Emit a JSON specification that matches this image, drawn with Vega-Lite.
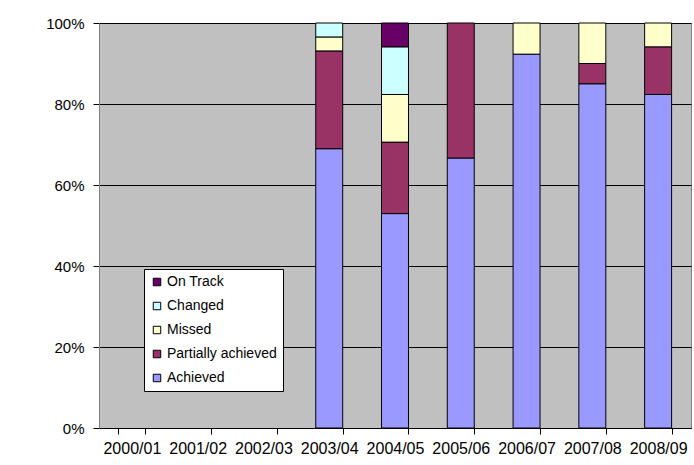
{
  "$schema": "https://vega.github.io/schema/vega-lite/v6.json",
  "width": 592,
  "height": 405,
  "autosize": {"type": "none"},
  "padding": {"left": 99, "top": 23, "right": 3, "bottom": 37},
  "background": "white",
  "config": {
    "view": {"fill": "#C0C0C0", "stroke": "#808080", "strokeWidth": 1},
    "font": "Liberation Sans",
    "axis": {"labelFont": "Liberation Sans", "labelColor": "black", "domainColor": "black", "tickColor": "black", "titleColor": "black"}
  },
  "data": {
    "values": [
      {"year": "2003/04", "status": "Achieved", "rank": 1, "count": 20},
      {"year": "2003/04", "status": "Partially achieved", "rank": 2, "count": 7},
      {"year": "2003/04", "status": "Missed", "rank": 3, "count": 1},
      {"year": "2003/04", "status": "Changed", "rank": 4, "count": 1},
      {"year": "2004/05", "status": "Achieved", "rank": 1, "count": 9},
      {"year": "2004/05", "status": "Partially achieved", "rank": 2, "count": 3},
      {"year": "2004/05", "status": "Missed", "rank": 3, "count": 2},
      {"year": "2004/05", "status": "Changed", "rank": 4, "count": 2},
      {"year": "2004/05", "status": "On Track", "rank": 5, "count": 1},
      {"year": "2005/06", "status": "Achieved", "rank": 1, "count": 2},
      {"year": "2005/06", "status": "Partially achieved", "rank": 2, "count": 1},
      {"year": "2006/07", "status": "Achieved", "rank": 1, "count": 12},
      {"year": "2006/07", "status": "Missed", "rank": 3, "count": 1},
      {"year": "2007/08", "status": "Achieved", "rank": 1, "count": 17},
      {"year": "2007/08", "status": "Partially achieved", "rank": 2, "count": 1},
      {"year": "2007/08", "status": "Missed", "rank": 3, "count": 2},
      {"year": "2008/09", "status": "Achieved", "rank": 1, "count": 14},
      {"year": "2008/09", "status": "Partially achieved", "rank": 2, "count": 2},
      {"year": "2008/09", "status": "Missed", "rank": 3, "count": 1}
    ]
  },
  "mark": {"type": "bar", "stroke": "black", "strokeWidth": 1},
  "encoding": {
    "x": {
      "field": "year",
      "type": "ordinal",
      "scale": {
        "domain": ["2000/01", "2001/02", "2002/03", "2003/04", "2004/05", "2005/06", "2006/07", "2007/08", "2008/09"],
        "paddingInner": 0.59,
        "paddingOuter": 0.295
      },
      "axis": {
        "title": null,
        "labelAngle": 0,
        "labelFontSize": 16,
        "labelPadding": 6,
        "tickSize": 6,
        "tickBand": "extent",
        "grid": false,
        "domainColor": "black"
      }
    },
    "y": {
      "field": "count",
      "type": "quantitative",
      "stack": "normalize",
      "scale": {"domain": [0, 1]},
      "axis": {
        "title": null,
        "values": [0, 0.2, 0.4, 0.6, 0.8, 1],
        "format": ".0%",
        "labelFontSize": 15,
        "labelPadding": 9,
        "tickSize": 6,
        "grid": true,
        "gridColor": "black",
        "gridWidth": 1,
        "gridOpacity": 1,
        "domainColor": "#808080"
      }
    },
    "order": {"field": "rank", "type": "quantitative", "sort": "ascending"},
    "color": {
      "field": "status",
      "type": "nominal",
      "scale": {
        "domain": ["Achieved", "Partially achieved", "Missed", "Changed", "On Track"],
        "range": ["#9999FF", "#993366", "#FFFFCC", "#CCFFFF", "#660066"]
      },
      "legend": {
        "title": null,
        "orient": "none",
        "legendX": 45,
        "legendY": 246,
        "values": ["On Track", "Changed", "Missed", "Partially achieved", "Achieved"],
        "fillColor": "white",
        "strokeColor": "black",
        "padding": 6,
        "rowPadding": 10,
        "labelFont": "Liberation Sans",
        "labelFontSize": 14,
        "labelColor": "black",
        "labelOffset": 3,
        "symbolType": "square",
        "symbolSize": 56,
        "symbolStrokeColor": "black",
        "symbolStrokeWidth": 1,
        "symbolOpacity": 1
      }
    }
  }
}
